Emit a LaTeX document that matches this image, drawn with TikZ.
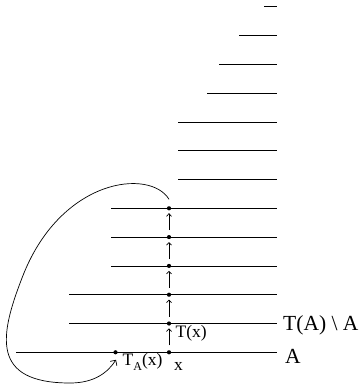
\documentclass[tikz,border=0pt]{standalone}
\usepackage{fontspec}
\setmainfont{Liberation Serif}
\usetikzlibrary{arrows.meta}
\tikzset{
  level/.style={line width=0.7pt},
  dot/.style={circle, fill=black, inner sep=0pt, minimum size=4.2pt},
  arr/.style={line width=0.7pt, -{Straight Barb[length=2.6pt,width=5pt]}},
  bigarr/.style={line width=0.7pt, -{Straight Barb[length=4pt,width=8pt]}},
  biglbl/.style={font=\fontsize{21.5}{21.5}\selectfont, inner sep=0pt, anchor=base west},
  smalllbl/.style={font=\fontsize{17.5}{17.5}\selectfont, inner sep=0pt, anchor=base west}
}
\begin{document}
\begin{tikzpicture}[x=1pt,y=-1pt]
\useasboundingbox (0,0) rectangle (359,387);
% level lines
\foreach \i/\xl in {0/16,1/69,2/69,3/111,4/111,5/111,6/178,7/178,8/178,9/207,10/219,11/239,12/264}{
  \coordinate (L\i) at (\xl,{352.3-28.8*\i});
  \coordinate (R\i) at (277,{352.3-28.8*\i});
  \draw[level] (L\i) -- (R\i);
}
% dots
\foreach \i in {0,...,5}{
  \node[dot] (d\i) at (169,{352.3-28.8*\i}) {};
}
\node[dot] (ta) at (115.5,352.3) {};
% vertical arrows
\foreach \i [evaluate=\i as \j using int(\i+1)] in {0,...,4}{
  \draw[arr, shorten <=4.6pt, shorten >=2.6pt] (d\i) -- (d\j);
}
% return curve
\draw[bigarr] ([yshift=9pt]d5.center) .. controls (150,168) and (60,178) .. (22,278)
  .. controls (0,335) and (-10,383) .. (70,383)
  .. controls (95,383) and (108,372) .. ([shift={(0.5,7.5)}]ta.center);
% labels
\node[biglbl] (lTA) at (283,330.7) {T(A) \textbackslash\ A};
\node[biglbl] (lA) at (285,363.3) {A};
\node[smalllbl] (lT) at (175.5,337.5) {T(x)};
\node[smalllbl] (lx) at (174,370) {x};
\node[smalllbl] (lTAx) at (122.5,365) {T\raisebox{-5pt}{\fontsize{12}{12}\selectfont A}(x)};
\end{tikzpicture}
\end{document}
